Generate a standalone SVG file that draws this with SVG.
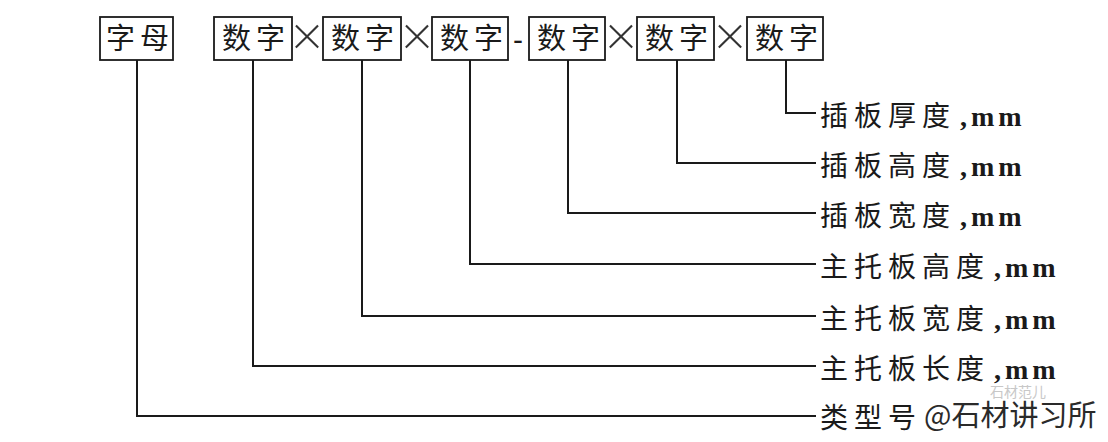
<svg xmlns="http://www.w3.org/2000/svg" width="1108" height="442" viewBox="0 0 1108 442">
<style>
.box{fill:#fff;stroke:#1a1a1a;stroke-width:1.8}
.bt{font-family:"Noto Sans CJK SC",sans-serif;font-size:29px;letter-spacing:5px;fill:#1a1a1a}
.op{font-family:"Lato","DejaVu Sans",sans-serif;font-weight:300;font-size:56px;fill:#333;text-anchor:middle}
.dash{font-family:"Liberation Sans",sans-serif;font-size:30px;fill:#1a1a1a;text-anchor:middle}
.lbl{font-family:"Noto Sans CJK SC",sans-serif;font-size:28px;letter-spacing:6px;fill:#1a1a1a}
.mm{font-family:"Liberation Serif",serif;font-weight:bold;letter-spacing:4px}
.con path{fill:none;stroke:#1a1a1a;stroke-width:2}
.wm{font-family:"Noto Sans CJK SC",sans-serif;font-size:29px;fill:#2a2a2a}
.wm2{font-family:"Noto Sans CJK SC",sans-serif;font-size:14px;fill:#c8c8c8}
</style>
<rect width="1108" height="442" fill="#fff"/>
<g id="connectors" class="con">
<path d="M137 60V416H816"/>
<path d="M253 60V366H816"/>
<path d="M362 60V316H816"/>
<path d="M470 60V264H816"/>
<path d="M568 60V213H816"/>
<path d="M677 60V163H816"/>
<path d="M786 60V113H816"/>
</g>
<g id="n-letter"><rect class="box" x="100" y="17" width="73" height="43"/><text class="bt" x="106" y="49">字母</text></g>
<g id="n-d1"><rect class="box" x="214" y="17" width="78" height="43"/><text class="bt" x="222" y="49">数字</text></g>
<text class="op" x="307" y="55">×</text>
<g id="n-d2"><rect class="box" x="323" y="17" width="78" height="43"/><text class="bt" x="331" y="49">数字</text></g>
<text class="op" x="417" y="55">×</text>
<g id="n-d3"><rect class="box" x="432" y="17" width="76" height="43"/><text class="bt" x="440" y="49">数字</text></g>
<text class="dash" x="518" y="50">-</text>
<g id="n-d4"><rect class="box" x="529" y="17" width="76" height="43"/><text class="bt" x="537" y="49">数字</text></g>
<text class="op" x="621" y="55">×</text>
<g id="n-d5"><rect class="box" x="637" y="17" width="77" height="43"/><text class="bt" x="645" y="49">数字</text></g>
<text class="op" x="730" y="55">×</text>
<g id="n-d6"><rect class="box" x="747" y="17" width="76" height="43"/><text class="bt" x="755" y="49">数字</text></g>
<g id="l1"><text class="lbl" x="820" y="126">插板厚度<tspan class="mm" dx="4">,mm</tspan></text></g>
<g id="l2"><text class="lbl" x="820" y="176">插板高度<tspan class="mm" dx="4">,mm</tspan></text></g>
<g id="l3"><text class="lbl" x="820" y="226">插板宽度<tspan class="mm" dx="4">,mm</tspan></text></g>
<g id="l4"><text class="lbl" x="820" y="277">主托板高度<tspan class="mm" dx="4">,mm</tspan></text></g>
<g id="l5"><text class="lbl" x="820" y="329">主托板宽度<tspan class="mm" dx="4">,mm</tspan></text></g>
<g id="l6"><text class="lbl" x="820" y="379">主托板长度<tspan class="mm" dx="4">,mm</tspan></text></g>
<text class="wm2" x="990" y="397">石材范儿</text>
<g id="l7"><text class="lbl" x="820" y="428">类型号</text></g>
<text class="wm" x="924" y="426">@石材讲习所</text>
</svg>
